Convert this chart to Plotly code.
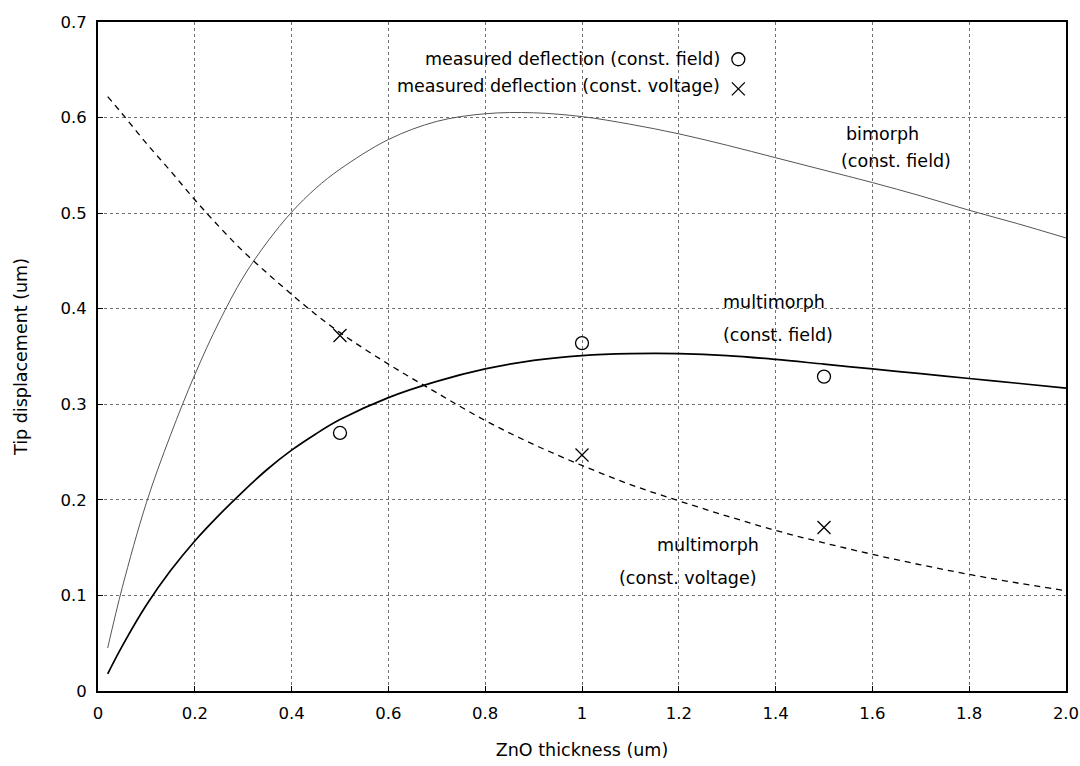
import plotly.graph_objects as go

# ---- data ----
x_curve = [0.02, 0.05, 0.1, 0.15, 0.2, 0.25, 0.3, 0.35, 0.4, 0.45, 0.5, 0.6, 0.7, 0.8,
           0.9, 1.0, 1.1, 1.2, 1.3, 1.4, 1.5, 1.6, 1.7, 1.8, 1.9, 2.0]
bimorph_field = [0.045, 0.108, 0.197, 0.268, 0.331, 0.386, 0.433, 0.470, 0.501, 0.526, 0.546,
                 0.577, 0.596, 0.604, 0.605, 0.601, 0.593, 0.583, 0.571, 0.558, 0.545,
                 0.532, 0.518, 0.503, 0.489, 0.474]
multimorph_field = [0.018, 0.047, 0.090, 0.126, 0.157, 0.184, 0.209, 0.232, 0.252, 0.269, 0.284,
                    0.307, 0.324, 0.337, 0.346, 0.351, 0.353, 0.353, 0.351, 0.347, 0.342,
                    0.337, 0.332, 0.327, 0.322, 0.317]
multimorph_voltage = [0.622, 0.604, 0.573, 0.544, 0.514, 0.486, 0.460, 0.437, 0.415, 0.394, 0.375,
                      0.342, 0.312, 0.283, 0.258, 0.236, 0.216, 0.199, 0.183, 0.168, 0.155,
                      0.143, 0.132, 0.122, 0.113, 0.105]

x_meas = [0.5, 1.0, 1.5]
meas_field = [0.27, 0.364, 0.329]
meas_voltage = [0.372, 0.247, 0.171]

x_tickvals = [0, 0.2, 0.4, 0.6, 0.8, 1.0, 1.2, 1.4, 1.6, 1.8, 2.0]
x_ticktext = ["0", "0.2", "0.4", "0.6", "0.8", "1", "1.2", "1.4", "1.6", "1.8", "2.0"]
y_tickvals = [0, 0.1, 0.2, 0.3, 0.4, 0.5, 0.6, 0.7]
y_ticktext = ["0", "0.1", "0.2", "0.3", "0.4", "0.5", "0.6", "0.7"]

FONT = "DejaVu Sans"
TXT = 17.5

fig = go.Figure()
fig.add_trace(go.Scatter(x=x_curve, y=bimorph_field, mode="lines", line_shape="spline",
                         line=dict(color="#555555", width=1), name="bimorph (const. field)"))
fig.add_trace(go.Scatter(x=x_curve, y=multimorph_field, mode="lines", line_shape="spline",
                         line=dict(color="black", width=1.7), name="multimorph (const. field)"))
fig.add_trace(go.Scatter(x=x_curve, y=multimorph_voltage, mode="lines", line_shape="spline",
                         line=dict(color="black", width=1.3, dash="6px,5px"),
                         name="multimorph (const. voltage)"))
fig.add_trace(go.Scatter(x=x_meas, y=meas_field, mode="markers",
                         marker=dict(symbol="circle-open", size=13, color="black",
                                     line=dict(width=1.3)),
                         name="measured deflection (const. field)"))
fig.add_trace(go.Scatter(x=x_meas, y=meas_voltage, mode="markers",
                         marker=dict(symbol="x-thin-open", size=13, color="black",
                                     line=dict(width=1.3, color="black")),
                         name="measured deflection (const. voltage)"))

anns = []
def txt(x, y, s, anchor="center"):
    anns.append(dict(x=x, y=y, xref="x", yref="y", text=s, showarrow=False,
                     xanchor=anchor, yanchor="middle",
                     font=dict(family=FONT, size=TXT, color="black")))

# key (text left of symbol)
txt(1.29, 0.661, "measured deflection (const. field)", "right")
txt(1.29, 0.633, "measured deflection (const. voltage)", "right")
# curve labels
txt(1.621, 0.583, "bimorph")
txt(1.648, 0.555, "(const. field)")
txt(1.396, 0.407, "multimorph")
txt(1.404, 0.373, "(const. field)")
txt(1.26, 0.153, "multimorph")
txt(1.22, 0.118, "(const. voltage)")

shapes = [
    dict(type="circle", xref="x", yref="y", xsizemode="pixel", ysizemode="pixel",
         xanchor=1.323, yanchor=0.661, x0=-6.5, x1=6.5, y0=-6.5, y1=6.5,
         line=dict(color="black", width=1.3)),
    dict(type="line", xref="x", yref="y", xsizemode="pixel", ysizemode="pixel",
         xanchor=1.323, yanchor=0.630, x0=-6.5, x1=6.5, y0=-6.5, y1=6.5,
         line=dict(color="black", width=1.3)),
    dict(type="line", xref="x", yref="y", xsizemode="pixel", ysizemode="pixel",
         xanchor=1.323, yanchor=0.630, x0=-6.5, x1=6.5, y0=6.5, y1=-6.5,
         line=dict(color="black", width=1.3)),
]

axis_common = dict(showline=True, linecolor="black", linewidth=1.7, mirror=True,
                   showgrid=True, gridcolor="#707070", gridwidth=1, griddash="dot",
                   ticks="inside", ticklen=5, tickcolor="black", zeroline=False,
                   tickfont=dict(family=FONT, size=16.5, color="black"))

fig.update_layout(
    width=1080, height=766,
    margin=dict(l=98, r=14, t=22, b=75, autoexpand=False),
    paper_bgcolor="white", plot_bgcolor="white",
    showlegend=False,
    annotations=anns, shapes=shapes,
    font=dict(family=FONT, size=TXT, color="black"),
    xaxis=dict(range=[0, 2.0], tickvals=x_tickvals, ticktext=x_ticktext,
               title=dict(text="ZnO thickness (um)", standoff=22,
                          font=dict(family=FONT, size=TXT)),
               ticklabelstandoff=6, automargin=False, **axis_common),
    yaxis=dict(range=[0, 0.7], tickvals=y_tickvals, ticktext=y_ticktext,
               title=dict(text="Tip displacement (um)", standoff=28,
                          font=dict(family=FONT, size=TXT)),
               ticklabelstandoff=6, automargin=False, **axis_common),
)

# remove the default page margin so the figure fills the window exactly
fig.write_html("out.html",
               config={"displayModeBar": False},
               post_script="document.body.style.margin='0';document.body.style.overflow='hidden';")
